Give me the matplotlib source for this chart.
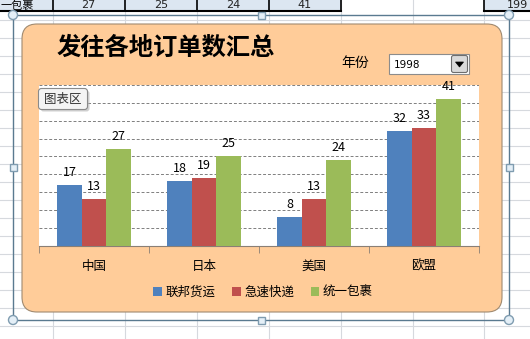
import matplotlib
matplotlib.use('Agg')
import matplotlib.pyplot as plt
from matplotlib.patches import Rectangle, FancyBboxPatch, Circle, Polygon
import numpy as np

plt.rcParams['font.family'] = ['Noto Sans CJK SC', 'DejaVu Sans']

# data
regions = ['中国', '日本', '美国', '欧盟']
series = ['联邦货运', '急速快递', '统一包裹']
fedex = [17, 18, 8, 32]
express = [13, 19, 13, 33]
ups = [27, 25, 24, 41]
colors = ['#4F81BD', '#C0504D', '#9BBB59']
year = '1998'
title = '发往各地订单数汇总'
top_row = ['27', '25', '24', '41']

W, H = 530, 339
fig = plt.figure(figsize=(W / 100, H / 100), dpi=100)

# background: worksheet in pixel coordinates
bg = fig.add_axes([0, 0, 1, 1])
bg.set_xlim(0, W)
bg.set_ylim(H, 0)
bg.axis('off')

grid_c = '#D6D9DE'
cols_x = [52.5, 124.5, 197, 269, 341, 413, 484]
for x in cols_x:
    bg.plot([x, x], [0, H], color=grid_c, lw=0.8, zorder=0.2)
for y in np.arange(20, H, 18):
    bg.plot([0, W], [y, y], color=grid_c, lw=0.8, zorder=0.2)

# top table row (partially visible)
bg.add_patch(Rectangle((0, 0), 341, 11, fc='#DCE6F1', ec='none', zorder=0.3))
bg.add_patch(Rectangle((484, 0), 46, 11, fc='#DCE6F1', ec='none', zorder=0.3))
bg.plot([0, 341], [11, 11], color='black', lw=1.5, zorder=0.4)
bg.plot([484, 530], [11, 11], color='black', lw=1.5, zorder=0.4)
for x in [52.5, 124.5, 197, 269, 341, 484]:
    bg.plot([x, x], [0, 11], color='black', lw=1.2, zorder=0.4)
bg.text(1, 5.5, '一包裹', ha='left', va='center', fontsize=8)
for i, t in enumerate(top_row):
    bg.text((cols_x[i] + cols_x[i + 1]) / 2, 5.5, t, ha='center', va='center',
            fontsize=8, family='DejaVu Sans', color='#222222')
bg.text(528, 5.5, '199', ha='right', va='center', fontsize=8,
        family='DejaVu Sans', color='#222222')

# selection frame with handles
fl, fr, ft, fb = 13, 509, 15, 320
bg.add_patch(Rectangle((fl, ft), fr - fl, fb - ft, fc='none', ec='#5A7A90', lw=1))

# chart area (orange rounded box)
bg.add_patch(FancyBboxPatch((22, 24), 480, 288,
                            boxstyle='round,pad=0,rounding_size=15',
                            fc='#FFCC99', ec='#A08A70', lw=0.8))

for (hx, hy) in [(fl, ft), (fr, ft), (fl, fb), (fr, fb)]:
    bg.add_patch(Circle((hx, hy), 4.5, fc='#E4EFF7', ec='#7F9CB0', lw=1, zorder=5))
mx, my = (fl + fr) / 2, (ft + fb) / 2
for (hx, hy) in [(mx, ft), (mx, fb), (fl, my), (fr, my)]:
    bg.add_patch(Rectangle((hx - 3.5, hy - 3.5), 7, 7, fc='#E4EFF7', ec='#7F9CB0',
                           lw=1, zorder=5))

# title and year selector
bg.text(57, 48, title, ha='left', va='center', fontsize=17.5, weight='bold')
bg.text(341, 63, '年份', ha='left', va='center', fontsize=10)
bg.add_patch(Rectangle((389, 54), 80, 20, fc='white', ec='#8C8C8C', lw=0.8))
bg.text(394, 64.5, year, ha='left', va='center', fontsize=7.5, family='DejaVu Sans')
bg.add_patch(FancyBboxPatch((451.5, 55.5), 16, 17,
                            boxstyle='round,pad=0,rounding_size=2',
                            fc='#D9D9D9', ec='#6E6E6E', lw=0.8))
bg.add_patch(Polygon([[455.5, 62], [463.5, 62], [459.5, 67]], closed=True,
                     fc='black', ec='black', lw=0.5))

# bar chart plot area
top_px, bot_px, left_px, right_px = 85, 245.7, 39, 479
ax = fig.add_axes([left_px / W, 1 - bot_px / H, (right_px - left_px) / W,
                   (bot_px - top_px) / H])
ax.set_facecolor('white')
x = np.arange(len(regions))
bw = 2 / 9
for k, vals in enumerate([fedex, express, ups]):
    pos = x + (k - 1) * bw
    ax.bar(pos, vals, width=bw, color=colors[k], label=series[k], zorder=3)
    for px, v in zip(pos, vals):
        ax.annotate(str(v), (px, v), xytext=(0, 6.5), textcoords='offset points',
                    ha='center', va='baseline', fontsize=9, clip_on=False)

ax.set_xlim(-0.5, len(regions) - 0.5)
ax.set_ylim(0, 45)
ax.set_yticks(range(0, 46, 5))
ax.yaxis.grid(True, linestyle=(0, (3, 2)), color='#7F7F7F', lw=0.7)
ax.set_axisbelow(True)
ax.tick_params(axis='y', length=0, labelleft=False)
for s in ['left', 'right', 'top']:
    ax.spines[s].set_visible(False)
ax.spines['bottom'].set_color('#8A7F75')
ax.set_xticks(x)
ax.set_xticklabels(regions, fontsize=9)
ax.set_xticks(np.arange(-0.5, len(regions)), minor=True)
ax.tick_params(axis='x', which='major', length=0, pad=10)
ax.tick_params(axis='x', which='minor', length=5, color='#8A7F75', direction='out')

fig.legend(loc='center', bbox_to_anchor=(263 / W, 1 - 292 / H), ncol=3,
           frameon=False, fontsize=9, handlelength=0.7, handleheight=0.7,
           handletextpad=0.3, columnspacing=1.3)

# "图表区" tooltip
bg2 = fig.add_axes([0, 0, 1, 1])
bg2.set_xlim(0, W)
bg2.set_ylim(H, 0)
bg2.axis('off')
bg2.add_patch(FancyBboxPatch((40.5, 90.5), 49, 21, boxstyle='round,pad=0,rounding_size=3',
                             fc='#B0B0B0', ec='none', alpha=0.6))
bg2.add_patch(FancyBboxPatch((38.5, 88.5), 49, 21, boxstyle='round,pad=0,rounding_size=3',
                             fc='#F4F4F4', ec='#8A8A8A', lw=0.8))
bg2.text(63, 99, '图表区', ha='center', va='center', fontsize=9, color='#333333')

fig.savefig('out.png', dpi=100)
